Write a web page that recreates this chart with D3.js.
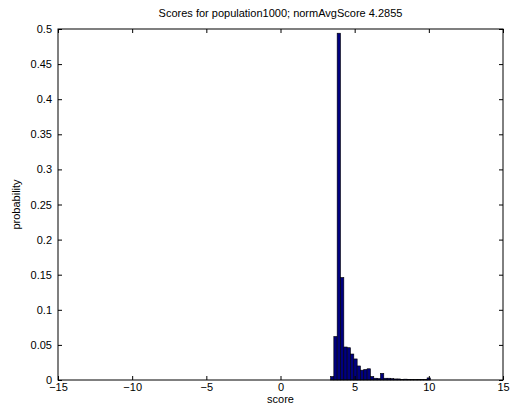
<!DOCTYPE html>
<meta charset="utf-8">
<style>
body { margin: 0; background: #fff; }
text { font-family: "Liberation Sans", Arial, Helvetica, sans-serif; font-size: 11px; fill: #000; }
</style>
<svg width="513" height="414"></svg>
<script src="https://cdn.jsdelivr.net/npm/d3@7/dist/d3.min.js"></script>
<script>

// histogram bins (centres) and probabilities
var binCenters = [3.483, 3.708, 3.932, 4.157, 4.381, 4.606, 4.830, 5.055, 5.279, 5.504,
                  5.728, 5.953, 6.177, 6.402, 6.626, 6.851, 7.075, 7.300, 7.524, 7.749,
                  7.973, 8.198, 8.422, 8.647, 8.871, 9.096, 9.320, 9.545, 9.769, 9.994];
var probs = [0.005, 0.062, 0.494, 0.146, 0.047, 0.046, 0.037, 0.030, 0.020, 0.014,
             0.015, 0.016, 0.005, 0.0025, 0.002, 0.0095, 0.0025, 0.0025, 0.002, 0.0015,
             0.0015, 0.001, 0.0012, 0.001, 0.0008, 0.0005, 0.0008, 0.0006, 0.0005, 0.003];
var xTicks = [-15, -10, -5, 0, 5, 10, 15];
var yTicks = [0, 0.05, 0.1, 0.15, 0.2, 0.25, 0.3, 0.35, 0.4, 0.45, 0.5];
var title = "Scores for population1000; normAvgScore 4.2855";

var svg = d3.select("svg"),
    pLeft = 58, pRight = 503, pTop = 29, pBottom = 380;

var x = d3.scaleLinear().domain([-15, 15]).range([pLeft, pRight]);
var y = d3.scaleLinear().domain([0, 0.5]).range([pBottom, pTop]);
var binW = binCenters[1] - binCenters[0];

var fmt = function(d) { return String(d).replace("-", "\u2212"); };

// bars
svg.append("g").selectAll("rect")
  .data(binCenters)
  .enter().append("rect")
    .attr("x", function(d) { return x(d - binW / 2); })
    .attr("width", function(d) { return x(d + binW / 2) - x(d - binW / 2); })
    .attr("y", function(d, i) { return y(probs[i]); })
    .attr("height", function(d, i) { return pBottom - y(probs[i]); })
    .attr("fill", "#00007f")
    .attr("stroke", "#000")
    .attr("stroke-width", 0.6);

// axes, ticks inside like matlab
svg.append("g").attr("transform", "translate(0," + pBottom + ")")
  .call(d3.axisBottom(x).tickValues(xTicks).tickSizeInner(-4).tickSizeOuter(0).tickPadding(3.5).tickFormat(fmt));
svg.append("g").attr("transform", "translate(0," + pTop + ")")
  .call(d3.axisTop(x).tickValues(xTicks).tickSizeInner(-4).tickSizeOuter(0).tickFormat(""));
svg.append("g").attr("transform", "translate(" + pLeft + ",0)")
  .call(d3.axisLeft(y).tickValues(yTicks).tickSizeInner(-4).tickSizeOuter(0).tickPadding(6).tickFormat(function(d) { return String(d); }));
svg.append("g").attr("transform", "translate(" + pRight + ",0)")
  .call(d3.axisRight(y).tickValues(yTicks).tickSizeInner(-4).tickSizeOuter(0).tickFormat(""));

svg.selectAll(".domain").remove();
svg.selectAll(".tick line").attr("stroke", "#000");
svg.selectAll(".tick text").style("font-size", "11px").attr("fill", "#000")
  .style("font-family", "'Liberation Sans', Arial, sans-serif");

svg.append("rect")
    .attr("x", pLeft).attr("y", pTop)
    .attr("width", pRight - pLeft).attr("height", pBottom - pTop)
    .attr("fill", "none").attr("stroke", "#000").attr("stroke-width", 1);

svg.append("text")
    .attr("x", (pLeft + pRight) / 2).attr("y", 17)
    .attr("text-anchor", "middle")
    .text(title);

svg.append("text")
    .attr("x", (pLeft + pRight) / 2).attr("y", 403)
    .attr("text-anchor", "middle")
    .text("score");

svg.append("text")
    .attr("transform", "translate(20," + (pTop + pBottom) / 2 + ") rotate(-90)")
    .attr("text-anchor", "middle")
    .text("probability");

</script>
